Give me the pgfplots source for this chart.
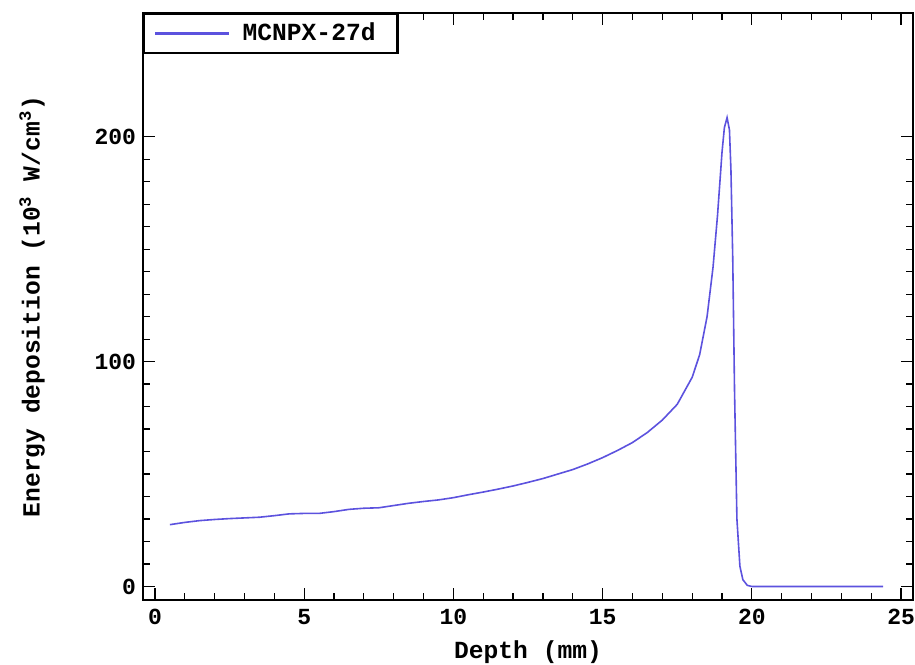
\documentclass[border=0pt]{standalone}
\usepackage{fontspec}
\setmainfont{Liberation Mono}
\usepackage{pgfplots}
\pgfplotsset{compat=1.18}
\definecolor{lineblue}{RGB}{92,82,222}

\begin{document}
\begin{tikzpicture}
\begin{axis}[
    scale only axis,
    width=385pt, height=293.5pt,
    xmin=-0.4, xmax=25.4,
    ymin=-6, ymax=255,
    xtick={0,5,...,25},
    ytick={0,100,200},
    minor x tick num=4,
    minor y tick num=9,
    tick align=inside,
    major tick length=6pt,
    minor tick length=3.5pt,
    every tick/.style={black, line width=0.6pt},
    axis line style={line width=1.1pt},
    tick label style={font=\fontsize{11.5}{13}\selectfont\bfseries},
    /pgf/number format/assume math mode=true,
    xticklabel style={yshift=-1pt},
    label style={font=\fontsize{12.3}{14}\selectfont\bfseries},
    xlabel={Depth (mm)},
    ylabel={Energy deposition (10\textsuperscript{3} W/cm\textsuperscript{3})},
    xlabel style={yshift=-1pt},
    ylabel style={yshift=18pt},
    legend style={
        at={(0,1)}, anchor=north west,
        draw=black, line width=1.1pt,
        font=\fontsize{12.3}{14}\selectfont\bfseries,
        inner xsep=5pt, inner ysep=2.5pt,
        nodes={inner xsep=6pt},
        legend cell align=left,
    },
    legend image code/.code={\draw[#1, line width=1.3pt] (0pt,0pt) -- (37pt,0pt);},
]
\addplot[lineblue, line width=0.8pt] coordinates {
(0.5,27.5) (1.0,28.5) (1.5,29.3) (2.0,29.8) (2.5,30.2) (3.0,30.5) (3.5,30.8)
(4.0,31.5) (4.5,32.3) (5.0,32.5) (5.5,32.5) (6.0,33.3) (6.5,34.3) (7.0,34.8)
(7.5,35.0) (8.0,36.0) (8.5,37.0) (9.0,37.8) (9.5,38.5) (10.0,39.5) (10.5,40.8)
(11.0,42.0) (11.5,43.3) (12.0,44.7) (12.5,46.3) (13.0,48.0) (13.5,50.0)
(14.0,52.0) (14.5,54.5) (15.0,57.3) (15.5,60.5) (16.0,64.0) (16.5,68.5)
(17.0,74.0) (17.5,81.0) (18.0,93.0) (18.25,103) (18.5,120) (18.7,142)
(18.85,165) (19.0,193) (19.08,204) (19.17,208.5) (19.25,203) (19.3,185)
(19.36,146) (19.42,87) (19.5,30) (19.6,9) (19.7,3) (19.85,0.5) (20.0,0) (24.4,0)
};
\legend{MCNPX-27d}
\end{axis}
\pgfresetboundingbox
\path[use as bounding box] ([shift={(-71.5pt,-32pt)}]current axis.south west) rectangle ([shift={(1pt,6.5pt)}]current axis.north east);
\end{tikzpicture}
\end{document}
